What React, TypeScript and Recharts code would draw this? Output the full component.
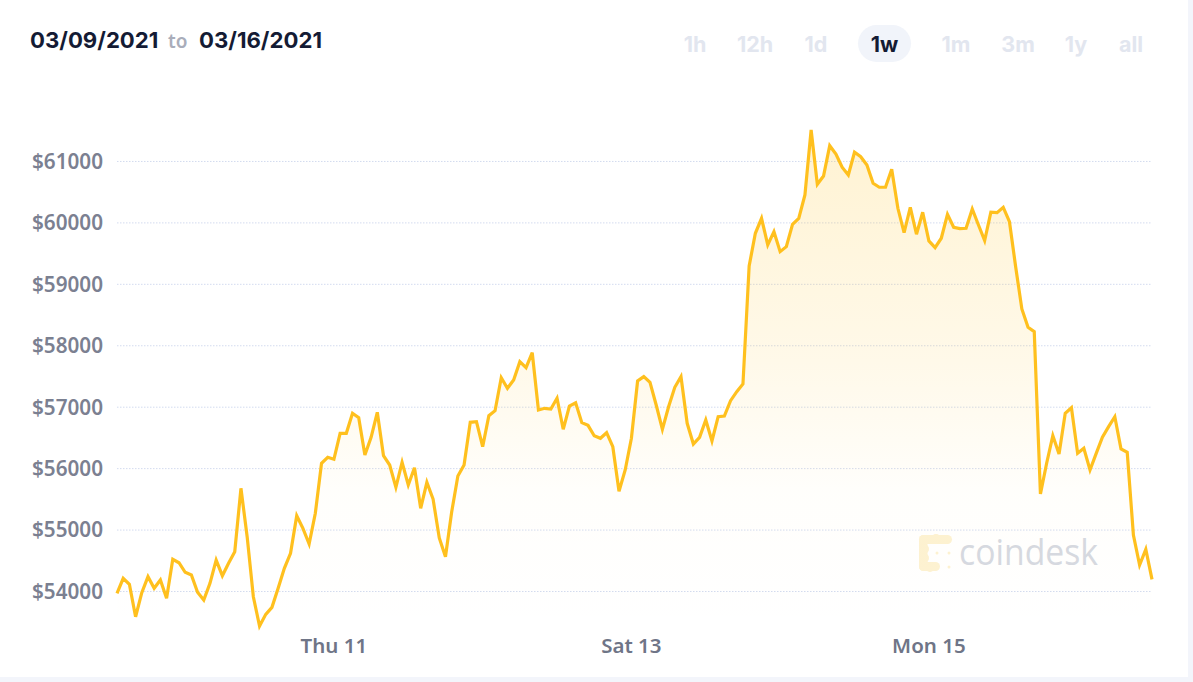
import React from "react";
import { AreaChart, Area, XAxis, YAxis, CartesianGrid } from "recharts";

const prices = [
  53970, 54215, 54117, 53589, 53980, 54241, 54052, 54187, 53889, 54524, 54468, 54312,
  54268, 53987, 53861, 54133, 54512, 54257, 54459, 54647, 55680, 54892, 53915, 53438,
  53628, 53742, 54052, 54377, 54622, 55234, 55028, 54773, 55273, 56087, 56184, 56152,
  56575, 56575, 56901, 56829, 56222, 56510, 56917, 56210, 56059, 55696, 56103, 55733,
  56015, 55354, 55777, 55505, 54871, 54566, 55294, 55880, 56059, 56754, 56764, 56357,
  56862, 56943, 57480, 57308, 57443, 57741, 57643, 57887, 56954, 56982, 56971, 57145,
  56640, 57020, 57073, 56748, 56705, 56536, 56494, 56585, 56357, 55631, 55978, 56494,
  57427, 57497, 57405, 57036, 56640, 57008, 57324, 57497, 56738, 56401, 56510, 56792,
  56450, 56845, 56857, 57106, 57252, 57378, 59299, 59831, 60075, 59641, 59857, 59532,
  59613, 59978, 60075, 60455, 61513, 60629, 60764, 61257, 61122, 60906, 60780, 61150,
  61078, 60943, 60645, 60580, 60580, 60873, 60238, 59841, 60254, 59815, 60173, 59706,
  59597, 59750, 60140, 59929, 59906, 59912, 60227, 59966, 59711, 60173, 60166, 60254,
  60020, 59287, 58599, 58301, 58229, 55587, 56087, 56536, 56238, 56901, 56992, 56249,
  56331, 55978, 56249, 56510, 56683, 56845, 56319, 56266, 54919, 54431, 54687, 54198,
];
const yTicks = [54000, 55000, 56000, 57000, 58000, 59000, 60000, 61000];
const xTicks = [35, 83, 131];
const xTickLabels = ["Thu 11", "Sat 13", "Mon 15"];
const ranges = ["1h", "12h", "1d", "1w", "1m", "3m", "1y", "all"];
const rangeCenters = [695, 755, 816, 884.5, 956, 1018, 1076, 1131];

const chartData = prices.map((price, index) => ({ index, price }));

const sans = "Inter, 'Open Sans', sans-serif";
const tickFont = "'Noto Sans', 'Open Sans', sans-serif";

function Watermark() {
  return (
    <svg width={1188} height={677} style={{ position: "absolute", left: 0, top: 0 }}>
      <g fill="#fdf2d2">
        <rect x={919} y={535} width={33} height={9} rx={4.5} />
        <rect x={919} y={535} width={8.5} height={36} rx={4.25} />
        <rect x={919} y={562} width={21} height={9} rx={4.5} />
        <circle cx={924} cy={549} r={5} />
        <circle cx={924} cy={558} r={5} />
        <circle cx={936} cy={539} r={5} />
        <circle cx={930} cy={567} r={5} />
        <circle cx={937} cy={553} r={1.5} />
        <circle cx={949} cy={553} r={1.5} />
        <circle cx={949} cy={567} r={1.5} />
      </g>
      <text
        x={959}
        y={565}
        fill="#d6d9e1"
        fontFamily="'Open Sans', sans-serif"
        fontSize={37}
        fontWeight={400}
        textLength={139}
        lengthAdjust="spacingAndGlyphs"
      >
        coindesk
      </text>
    </svg>
  );
}

export default function App() {
  return (
    <div style={{ position: "fixed", left: 0, top: 0, width: 1193, height: 682, background: "#f3f5fb", overflow: "hidden" }}>
      <div style={{ position: "absolute", left: 0, top: 0, width: 1188, height: 677, background: "#ffffff" }}>
        <Watermark />
        <div style={{ position: "absolute", left: 0, top: 0 }}>
          <AreaChart
            width={1188}
            height={677}
            data={chartData}
            margin={{ top: 124.6, right: 36, bottom: 0, left: 0 }}
          >
            <defs>
              <linearGradient id="priceFill" x1="0" y1="0" x2="0" y2="1">
                <stop offset="0%" stopColor="#ffc11e" stopOpacity={0.2} />
                <stop offset="45%" stopColor="#ffc11e" stopOpacity={0.1} />
                <stop offset="72%" stopColor="#ffc11e" stopOpacity={0.015} />
                <stop offset="100%" stopColor="#ffc11e" stopOpacity={0} />
              </linearGradient>
            </defs>
            <CartesianGrid
              horizontal
              vertical={false}
              stroke="#d3dbef"
              strokeDasharray="1.5 1.5"
              syncWithTicks
            />
            <XAxis
              dataKey="index"
              type="number"
              domain={[0, 167]}
              ticks={xTicks}
              tickFormatter={(v: number) => xTickLabels[xTicks.indexOf(v)]}
              height={42.5}
              axisLine={false}
              tickLine={false}
              tickMargin={-2}
              tick={{ fill: "#6f7587", fontSize: 20.5, fontWeight: 600, fontFamily: tickFont }}
            />
            <YAxis
              type="number"
              domain={[53300, 61600]}
              ticks={yTicks}
              tickFormatter={(v: number) => `$${v}`}
              width={117}
              axisLine={false}
              tickLine={false}
              tickMargin={8}
              tick={{ fill: "#7b8091", fontSize: 20.7, fontWeight: 600, fontFamily: tickFont }}
            />
            <Area
              type="linear"
              dataKey="price"
              stroke="#ffc01e"
              strokeWidth={3.2}
              fill="url(#priceFill)"
              fillOpacity={1}
              dot={false}
              activeDot={false}
              isAnimationActive={false}
            />
          </AreaChart>
        </div>
        <div style={{ position: "absolute", left: 30, top: 26, fontFamily: sans, fontSize: 22.2, fontWeight: 700, color: "#141b34", whiteSpace: "nowrap", lineHeight: "28px" }}>
          03/09/2021
        </div>
        <div style={{ position: "absolute", left: 168, top: 27, fontFamily: tickFont, fontSize: 19, fontWeight: 600, color: "#a9adba", whiteSpace: "nowrap", lineHeight: "28px" }}>
          to
        </div>
        <div style={{ position: "absolute", left: 199, top: 26, fontFamily: sans, fontSize: 22.2, fontWeight: 700, color: "#141b34", whiteSpace: "nowrap", lineHeight: "28px" }}>
          03/16/2021
        </div>
        <div style={{ position: "absolute", left: 858, top: 25, width: 53, height: 37, borderRadius: 18.5, background: "#f1f4fa" }} />
        {ranges.map((r, i) => (
          <div
            key={r}
            style={{
              position: "absolute",
              left: rangeCenters[i] - 40,
              width: 80,
              top: 30,
              textAlign: "center",
              fontFamily: sans,
              fontSize: 21.5,
              fontWeight: 700,
              lineHeight: "28px",
              color: r === "1w" ? "#141b34" : "#e2e6ef",
            }}
          >
            {r}
          </div>
        ))}
      </div>
    </div>
  );
}
